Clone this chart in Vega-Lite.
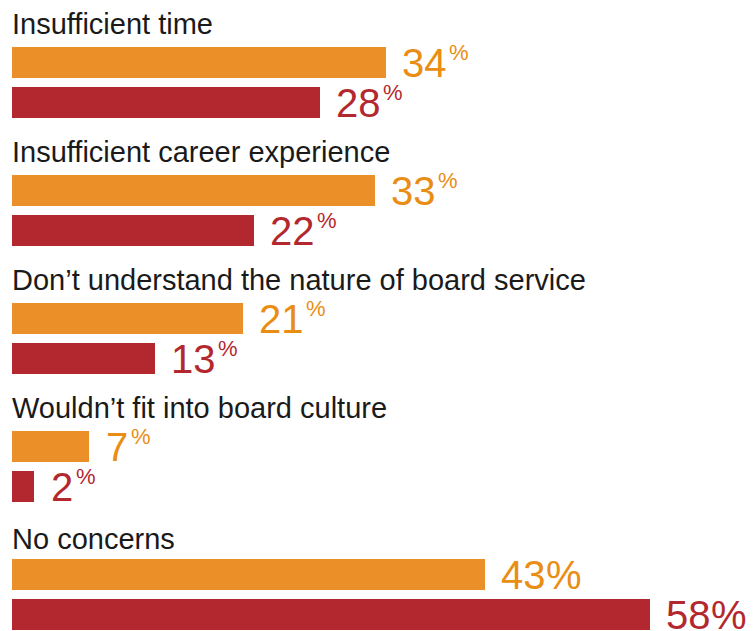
{
  "$schema": "https://vega.github.io/schema/vega-lite/v6.json",
  "padding": {"left": 12, "top": 10, "right": 0, "bottom": 0},
  "bounds": "flush",
  "spacing": 57,
  "config": {
    "view": {"stroke": null},
    "font": "Liberation Sans",
    "title": {"anchor": "start", "fontSize": 29, "font": "Liberation Sans", "fontWeight": "normal", "color": "#1a1a1a", "baseline": "alphabetic", "offset": 2},
    "text": {"font": "Liberation Sans"}
  },
  "datasets": {
    "d": [
      {"cat": "Insufficient time", "series": "first", "value": 34},
      {"cat": "Insufficient time", "series": "second", "value": 28},
      {"cat": "Insufficient career experience", "series": "first", "value": 33},
      {"cat": "Insufficient career experience", "series": "second", "value": 22},
      {"cat": "Don’t understand the nature of board service", "series": "first", "value": 21},
      {"cat": "Don’t understand the nature of board service", "series": "second", "value": 13},
      {"cat": "Wouldn’t fit into board culture", "series": "first", "value": 7},
      {"cat": "Wouldn’t fit into board culture", "series": "second", "value": 2},
      {"cat": "No concerns", "series": "first", "value": 43},
      {"cat": "No concerns", "series": "second", "value": 58}
    ]
  },
  "vconcat": [
    {
      "data": {"name": "d"},
      "transform": [{"filter": "datum.cat === 'Insufficient time'"}],
      "title": {"text": "Insufficient time"},
      "width": 638, "height": 71,
      "encoding": {
        "x": {"field": "value", "type": "quantitative", "scale": {"domain": [0, 58], "nice": false}, "axis": null},
        "y": {"field": "series", "type": "nominal", "scale": {"domain": ["first", "second"], "paddingInner": 0.225, "paddingOuter": 0}, "axis": null}
      },
      "layer": [
        {"mark": {"type": "bar"}, "encoding": {"color": {"field": "series", "type": "nominal", "scale": {"domain": ["first", "second"], "range": ["#EB9028", "#B3282F"]}, "legend": null}}},
        {"mark": {"type": "text", "align": "left", "baseline": "alphabetic", "dx": 16, "dy": 14, "fontSize": 40}, "encoding": {"text": {"field": "value", "type": "quantitative", "format": "d"}, "color": {"condition": {"test": "datum.series === 'first'", "value": "#E98D14"}, "value": "#B3282F"}}},
        {"mark": {"type": "text", "align": "left", "baseline": "alphabetic", "dx": 63, "dy": -3, "fontSize": 22}, "encoding": {"text": {"value": "%"}, "color": {"condition": {"test": "datum.series === 'first'", "value": "#E98D14"}, "value": "#B3282F"}}}
      ]
    },
    {
      "data": {"name": "d"},
      "transform": [{"filter": "datum.cat === 'Insufficient career experience'"}],
      "title": {"text": "Insufficient career experience"},
      "width": 638, "height": 71,
      "encoding": {
        "x": {"field": "value", "type": "quantitative", "scale": {"domain": [0, 58], "nice": false}, "axis": null},
        "y": {"field": "series", "type": "nominal", "scale": {"domain": ["first", "second"], "paddingInner": 0.225, "paddingOuter": 0}, "axis": null}
      },
      "layer": [
        {"mark": {"type": "bar"}, "encoding": {"color": {"field": "series", "type": "nominal", "scale": {"domain": ["first", "second"], "range": ["#EB9028", "#B3282F"]}, "legend": null}}},
        {"mark": {"type": "text", "align": "left", "baseline": "alphabetic", "dx": 16, "dy": 14, "fontSize": 40}, "encoding": {"text": {"field": "value", "type": "quantitative", "format": "d"}, "color": {"condition": {"test": "datum.series === 'first'", "value": "#E98D14"}, "value": "#B3282F"}}},
        {"mark": {"type": "text", "align": "left", "baseline": "alphabetic", "dx": 63, "dy": -3, "fontSize": 22}, "encoding": {"text": {"value": "%"}, "color": {"condition": {"test": "datum.series === 'first'", "value": "#E98D14"}, "value": "#B3282F"}}}
      ]
    },
    {
      "data": {"name": "d"},
      "transform": [{"filter": "datum.cat === 'Don’t understand the nature of board service'"}],
      "title": {"text": "Don’t understand the nature of board service"},
      "width": 638, "height": 71,
      "encoding": {
        "x": {"field": "value", "type": "quantitative", "scale": {"domain": [0, 58], "nice": false}, "axis": null},
        "y": {"field": "series", "type": "nominal", "scale": {"domain": ["first", "second"], "paddingInner": 0.225, "paddingOuter": 0}, "axis": null}
      },
      "layer": [
        {"mark": {"type": "bar"}, "encoding": {"color": {"field": "series", "type": "nominal", "scale": {"domain": ["first", "second"], "range": ["#EB9028", "#B3282F"]}, "legend": null}}},
        {"mark": {"type": "text", "align": "left", "baseline": "alphabetic", "dx": 16, "dy": 14, "fontSize": 40}, "encoding": {"text": {"field": "value", "type": "quantitative", "format": "d"}, "color": {"condition": {"test": "datum.series === 'first'", "value": "#E98D14"}, "value": "#B3282F"}}},
        {"mark": {"type": "text", "align": "left", "baseline": "alphabetic", "dx": 63, "dy": -3, "fontSize": 22}, "encoding": {"text": {"value": "%"}, "color": {"condition": {"test": "datum.series === 'first'", "value": "#E98D14"}, "value": "#B3282F"}}}
      ]
    },
    {
      "data": {"name": "d"},
      "transform": [{"filter": "datum.cat === 'Wouldn’t fit into board culture'"}],
      "title": {"text": "Wouldn’t fit into board culture"},
      "width": 638, "height": 71,
      "encoding": {
        "x": {"field": "value", "type": "quantitative", "scale": {"domain": [0, 58], "nice": false}, "axis": null},
        "y": {"field": "series", "type": "nominal", "scale": {"domain": ["first", "second"], "paddingInner": 0.225, "paddingOuter": 0}, "axis": null}
      },
      "layer": [
        {"mark": {"type": "bar"}, "encoding": {"color": {"field": "series", "type": "nominal", "scale": {"domain": ["first", "second"], "range": ["#EB9028", "#B3282F"]}, "legend": null}}},
        {"mark": {"type": "text", "align": "left", "baseline": "alphabetic", "dx": 17, "dy": 14, "fontSize": 40}, "encoding": {"text": {"field": "value", "type": "quantitative", "format": "d"}, "color": {"condition": {"test": "datum.series === 'first'", "value": "#E98D14"}, "value": "#B3282F"}}},
        {"mark": {"type": "text", "align": "left", "baseline": "alphabetic", "dx": 42, "dy": -3, "fontSize": 22}, "encoding": {"text": {"value": "%"}, "color": {"condition": {"test": "datum.series === 'first'", "value": "#E98D14"}, "value": "#B3282F"}}}
      ]
    },
    {
      "data": {"name": "d"},
      "transform": [{"filter": "datum.cat === 'No concerns'"}],
      "title": {"text": "No concerns"},
      "width": 638, "height": 71,
      "encoding": {
        "x": {"field": "value", "type": "quantitative", "scale": {"domain": [0, 58], "nice": false}, "axis": null},
        "y": {"field": "series", "type": "nominal", "scale": {"domain": ["first", "second"], "paddingInner": 0.225, "paddingOuter": 0}, "axis": null}
      },
      "layer": [
        {"mark": {"type": "bar"}, "encoding": {"color": {"field": "series", "type": "nominal", "scale": {"domain": ["first", "second"], "range": ["#EB9028", "#B3282F"]}, "legend": null}}},
        {"mark": {"type": "text", "align": "left", "baseline": "alphabetic", "dx": 16, "dy": 14, "fontSize": 40}, "encoding": {"text": {"field": "value", "type": "quantitative", "format": "d"}, "color": {"condition": {"test": "datum.series === 'first'", "value": "#E98D14"}, "value": "#B3282F"}}},
        {"mark": {"type": "text", "align": "left", "baseline": "alphabetic", "dx": 61, "dy": 14, "fontSize": 40}, "encoding": {"text": {"value": "%"}, "color": {"condition": {"test": "datum.series === 'first'", "value": "#E98D14"}, "value": "#B3282F"}}}
      ]
    }
  ]
}
